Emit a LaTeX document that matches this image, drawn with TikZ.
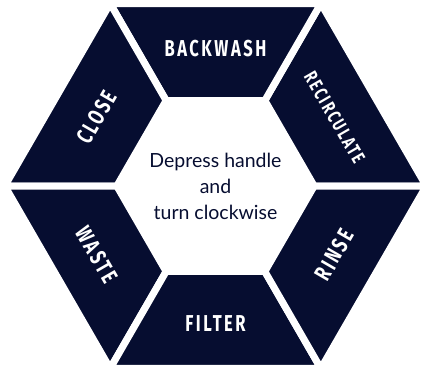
\documentclass[tikz,border=0pt]{standalone}
\usepackage{fontspec}
\setmainfont{Lato}
\newfontfamily\labelfont{Fira Sans}[FakeStretch=0.72, LetterSpace=11]
\usetikzlibrary{calc}
\definecolor{navy}{RGB}{6,13,48}

\begin{document}
\begin{tikzpicture}[x=1pt, y=1pt,
  segment/.style={fill=navy, draw=white, line width=7pt, line join=miter},
  seglabel/.style={text=white, inner sep=0pt, font=\labelfont\bfseries\fontsize{23}{23}\selectfont}]
\def\rOut{210.7}
\def\rIn{98.7}
\def\rLab{137.5}

\useasboundingbox (-215.5,-179) rectangle (209.5,186);

\coordinate (O) at (0,0);
\foreach \k in {0,...,5} {
  \coordinate (Out\k) at (60*\k:\rOut);
  \coordinate (In\k) at (60*\k:\rIn);
}

% the six dial segments
\foreach \a/\b in {0/1, 1/2, 2/3, 3/4, 4/5, 5/0}
  \path[segment] (Out\a) -- (Out\b) -- (In\b) -- (In\a) -- cycle;

\node[seglabel] (backwash) at (90:\rLab) {BACKWASH};
\node[seglabel, rotate=-60, font=\labelfont\bfseries\fontsize{19}{19}\selectfont] (recirc) at (30:\rLab) {RECIRCULATE};
\node[seglabel, rotate=60] (rinse) at (-30:\rLab) {RINSE};
\node[seglabel] (filter) at (-90:\rLab) {FILTER};
\node[seglabel, rotate=-60] (waste) at (210:\rLab) {WASTE};
\node[seglabel, rotate=60] (close) at (150:\rLab) {CLOSE};

\node[align=center, text=navy, font=\fontsize{19.5}{26}\selectfont] (instr) at (O) {Depress handle\\and\\turn clockwise};
\end{tikzpicture}
\end{document}
